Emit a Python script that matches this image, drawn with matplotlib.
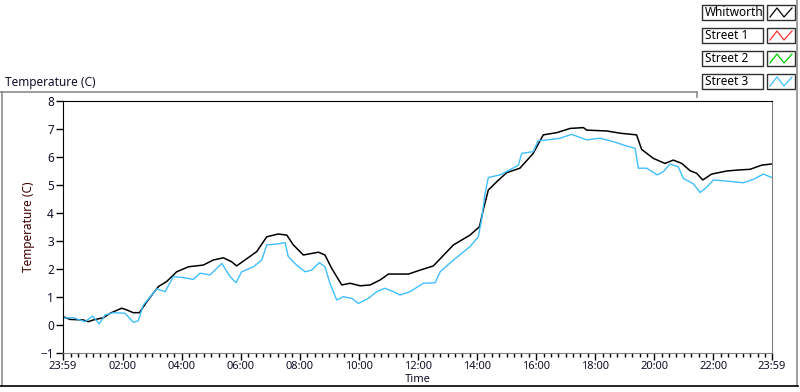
import matplotlib.pyplot as plt
from matplotlib.patches import Rectangle
from matplotlib.lines import Line2D

plt.rcParams['font.family'] = ['Noto Sans', 'DejaVu Sans']

# hours after midnight
whit_h = [-0.0167, 0.22, 0.67, 0.84, 1.01, 1.35, 1.58, 1.97, 2.14, 2.36, 2.57, 2.82, 3.21, 3.49,
          3.83, 4.23, 4.73, 5.07, 5.41, 5.69, 5.86, 6.14, 6.54, 6.88, 7.27, 7.56, 7.78, 8.12,
          8.63, 8.85, 9.08, 9.42, 9.70, 10.04, 10.38, 10.72, 11.0, 11.68, 12.07, 12.52, 13.2,
          13.76, 14.08, 14.21, 14.38, 14.67, 15.0, 15.45, 15.90, 16.24, 16.70, 17.15, 17.60,
          17.71, 18.39, 18.84, 19.40, 19.57, 19.97, 20.36, 20.64, 20.93, 21.21, 21.43, 21.64,
          21.94, 22.45, 22.90, 23.24, 23.64, 23.97]
whit_t = [0.30, 0.20, 0.18, 0.12, 0.18, 0.26, 0.42, 0.60, 0.54, 0.44, 0.44, 0.83, 1.37, 1.55,
          1.90, 2.08, 2.14, 2.32, 2.40, 2.26, 2.11, 2.32, 2.62, 3.15, 3.25, 3.21, 2.86, 2.50,
          2.60, 2.50, 2.02, 1.43, 1.49, 1.40, 1.43, 1.61, 1.82, 1.82, 1.96, 2.11, 2.86,
          3.21, 3.51, 4.11, 4.82, 5.12, 5.44, 5.60, 6.13, 6.79, 6.87, 7.02, 7.05,
          6.96, 6.93, 6.85, 6.79, 6.27, 5.95, 5.77, 5.89, 5.77, 5.51, 5.42, 5.18,
          5.39, 5.50, 5.54, 5.56, 5.71, 5.75]

st3_h = [-0.0167, 0.33, 0.73, 0.99, 1.21, 1.41, 1.69, 2.08, 2.36, 2.53, 2.70, 3.16, 3.44, 3.72,
         4.06, 4.40, 4.62, 4.96, 5.36, 5.64, 5.84, 6.03, 6.43, 6.71, 6.88, 7.22, 7.50, 7.61,
         7.89, 8.18, 8.40, 8.66, 8.85, 9.02, 9.25, 9.47, 9.76, 9.98, 10.32, 10.60, 10.88,
         11.17, 11.39, 11.73, 12.18, 12.58, 12.75, 13.2, 13.76, 14.04, 14.16, 14.27, 14.38,
         14.78, 15.0, 15.40, 15.51, 15.90, 16.07, 16.36, 16.81, 17.20, 17.71, 18.16, 18.61,
         19.07, 19.35, 19.46, 19.74, 20.10, 20.31, 20.53, 20.81, 20.98, 21.32, 21.55, 21.77,
         22.0, 22.45, 23.01, 23.35, 23.69, 23.97]
st3_t = [0.25, 0.26, 0.12, 0.32, 0.04, 0.36, 0.44, 0.42, 0.10, 0.15, 0.71, 1.29, 1.19, 1.73,
         1.69, 1.63, 1.85, 1.79, 2.20, 1.73, 1.51, 1.90, 2.08, 2.32, 2.86, 2.89, 2.94, 2.44,
         2.14, 1.90, 1.96, 2.23, 2.08, 1.49, 0.89, 1.01, 0.95, 0.77, 0.95, 1.19, 1.31,
         1.19, 1.07, 1.19, 1.49, 1.51, 1.90, 2.32, 2.80, 3.15, 3.81, 4.70, 5.27,
         5.36, 5.48, 5.71, 6.13, 6.19, 6.58, 6.61, 6.67, 6.81, 6.61, 6.67, 6.55,
         6.39, 6.31, 5.60, 5.60, 5.36, 5.48, 5.75, 5.65, 5.24, 5.04, 4.73, 4.92,
         5.18, 5.14, 5.08, 5.20, 5.39, 5.27]

x_ticks = [-1 / 60, 2, 4, 6, 8, 10, 12, 14, 16, 18, 20, 22, 24 - 1 / 60]
x_labels = ['23:59', '02:00', '04:00', '06:00', '08:00', '10:00', '12:00',
            '14:00', '16:00', '18:00', '20:00', '22:00', '23:59']
y_ticks = [-1, 0, 1, 2, 3, 4, 5, 6, 7, 8]

legend_names = ['Whitworth', 'Street 1', 'Street 2', 'Street 3']
legend_colors = ['#000000', '#ff3030', '#00d000', '#3fbfff']

W, H = 800, 392
fig = plt.figure(figsize=(W / 100, H / 100), dpi=100)


def px(x0, y0, x1, y1):
    return [x0 / W, 1 - y1 / H, (x1 - x0) / W, (y1 - y0) / H]


ax = fig.add_axes(px(63, 101, 772, 353))
ax.plot(whit_h, whit_t, color=legend_colors[0], lw=1.1)
ax.plot(st3_h, st3_t, color=legend_colors[3], lw=1.0)
ax.set_xlim(x_ticks[0], x_ticks[-1])
ax.set_ylim(-1, 8)
ax.set_xticks(x_ticks)
ax.set_xticklabels(x_labels)
ax.set_xticks([m * 0.25 for m in range(1, 96) if m % 8], minor=True)
ax.set_yticks(y_ticks)
ax.tick_params(axis='both', which='major', direction='out', length=5, width=1,
               labelsize=8.5, colors='black', labelcolor='#10102a', pad=1.5)
ax.tick_params(axis='x', which='major', labelsize=8, pad=1)
ax.tick_params(axis='x', which='minor', direction='out', length=3, width=1, color='black')
for s in ['left', 'top']:
    ax.spines[s].set_color('black')
for s in ['right', 'bottom']:
    ax.spines[s].set_color('#808080')
ax.set_ylabel('Temperature (C)', fontsize=8.5, color='#400000', labelpad=4)

# front panel decorations in pixel coordinates
ov = fig.add_axes([0, 0, 1, 1], zorder=5)
ov.set_xlim(0, W)
ov.set_ylim(H, 0)
ov.axis('off')
ov.patch.set_visible(False)
gray = '#8c8c8c'
ov.add_line(Line2D([1.5, 1.5], [92, 386], color=gray, lw=1.2))
ov.add_line(Line2D([0, 697], [92, 92], color=gray, lw=1.2))
ov.add_line(Line2D([697, 697], [92, 97], color=gray, lw=1.2))
ov.add_line(Line2D([797, 797], [0, 386], color=gray, lw=1.2))
ov.add_line(Line2D([0, 798], [386, 386], color='black', lw=1.2))
ov.text(5, 82, 'Temperature (C)', fontsize=8.5, ha='left', va='center', color='#10102a')
ov.text(418, 379.5, 'Time', fontsize=8, ha='center', va='center', color='#10102a')

for i, (name, col) in enumerate(zip(legend_names, legend_colors)):
    top = 5 + i * 23
    ov.add_patch(Rectangle((702, top), 61, 15, fc='white', ec='#303030', lw=1))
    ov.text(705, top + 7.5, name, fontsize=8.5, ha='left', va='center', color='black')
    ov.add_patch(Rectangle((767, top), 28, 15, fc='white', ec='#303030', lw=1))
    ov.add_line(Line2D([770, 777, 784, 792], [top + 12, top + 3, top + 12, top + 3],
                       color=col, lw=0.9))

fig.savefig('out.png', dpi=100)
